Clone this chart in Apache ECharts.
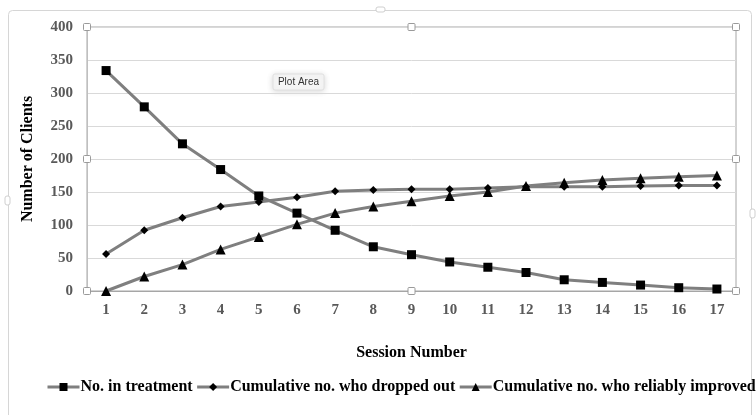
<!DOCTYPE html>
<html>
<head>
<meta charset="utf-8">
<script src="https://cdn.jsdelivr.net/npm/echarts@6/dist/echarts.min.js"></script>
<style>
  html, body { margin: 0; padding: 0; background: #ffffff; }
  #chart { width: 756px; height: 415px; }
</style>
</head>
<body>
<div id="chart"></div>
<script>
// Session numbers along the x axis
const sessions = ['1','2','3','4','5','6','7','8','9','10','11','12','13','14','15','16','17'];

// Clients still in treatment at each session
const inTreatment = [334, 279, 223, 184, 144, 118, 92, 67, 55, 44, 36, 28, 17, 13, 9, 5, 3];

// Cumulative number of clients who dropped out
const droppedOut = [56, 92, 111, 128, 135, 142, 151, 153, 154, 154, 156, 158, 158, 158, 159, 160, 160];

// Cumulative number of clients who reliably improved
const reliablyImproved = [0, 22, 40, 63, 82, 101, 118, 128, 136, 144, 150, 159, 164, 168, 171, 173, 175];

const seriesNames = ['No. in treatment', 'Cumulative no. who dropped out', 'Cumulative no. who reliably improved'];

const serif = '"Liberation Serif", "Times New Roman", serif';
const lineGray = '#7f7f7f';

const chart = echarts.init(document.getElementById('chart'), null, { renderer: 'canvas' });

// Plot area geometry (pixels)
const G = { left: 87, top: 27, right: 736, bottom: 291 };

function handle(x, y) {
  return {
    type: 'rect',
    shape: { x: x - 3.5, y: y - 3.5, width: 7, height: 7, r: 1 },
    style: { fill: '#ffffff', stroke: '#9a9a9a', lineWidth: 1 },
    z: 50
  };
}

function lineSeries(name, data, symbol, size) {
  return {
    name: name,
    type: 'line',
    data: data,
    symbol: symbol,
    symbolSize: size,
    showAllSymbol: true,
    lineStyle: { color: lineGray, width: 3 },
    itemStyle: { color: '#000000', borderColor: '#000000', borderWidth: 0 },
    emphasis: { disabled: true },
    animation: false,
    z: 3
  };
}

const midX = (G.left + G.right) / 2;
const midY = (G.top + G.bottom) / 2;

chart.setOption({
  backgroundColor: '#ffffff',
  animation: false,
  grid: {
    left: G.left,
    top: G.top,
    right: 756 - G.right,
    bottom: 415 - G.bottom,
    show: true,
    borderColor: '#a6a6a6',
    borderWidth: 1,
    backgroundColor: 'transparent'
  },
  xAxis: {
    type: 'category',
    data: sessions,
    boundaryGap: true,
    name: 'Session Number',
    nameLocation: 'middle',
    nameGap: 54,
    nameTextStyle: { fontFamily: serif, fontWeight: 'bold', fontSize: 16, color: '#000000' },
    axisLine: { show: true, lineStyle: { color: '#a6a6a6', width: 1 } },
    axisTick: { show: false },
    axisLabel: { fontFamily: serif, fontWeight: 'bold', fontSize: 15, color: '#595959', margin: 12 },
    splitLine: { show: false }
  },
  yAxis: {
    type: 'value',
    min: 0,
    max: 400,
    interval: 50,
    name: 'Number of Clients',
    nameLocation: 'middle',
    nameGap: 51,
    nameRotate: 90,
    nameTextStyle: { fontFamily: serif, fontWeight: 'bold', fontSize: 16, color: '#000000' },
    axisLine: { show: true, lineStyle: { color: '#bfbfbf', width: 1 } },
    axisTick: { show: false },
    axisLabel: { fontFamily: serif, fontWeight: 'bold', fontSize: 15, color: '#595959', margin: 14 },
    splitLine: { show: true, lineStyle: { color: '#d9d9d9', width: 1 } }
  },
  legend: {
    show: true,
    data: seriesNames,
    orient: 'horizontal',
    left: 41,
    top: 374,
    width: 780,
    itemWidth: 32,
    itemHeight: 10,
    itemGap: 3,
    lineStyle: { width: 3, color: lineGray },
    textStyle: { fontFamily: serif, fontWeight: 'bold', fontSize: 16, color: '#000000', padding: [0, 0, 0, -4] },
    selectedMode: false
  },
  series: [
    lineSeries(seriesNames[0], inTreatment, 'rect', 9),
    lineSeries(seriesNames[1], droppedOut, 'diamond', 8),
    lineSeries(seriesNames[2], reliablyImproved, 'triangle', 10)
  ],
  graphic: [
    // outer chart frame
    {
      type: 'rect',
      shape: { x: 8.5, y: 10.5, width: 743, height: 420, r: 4 },
      style: { fill: 'none', stroke: '#d6d6d6', lineWidth: 1 },
      z: 0, silent: true
    },
    // frame handles
    { type: 'rect', shape: { x: 5, y: 196, width: 5, height: 9, r: 2 }, style: { fill: '#fff', stroke: '#cfcfcf' }, z: 40 },
    { type: 'rect', shape: { x: 750, y: 209, width: 5, height: 9, r: 2 }, style: { fill: '#fff', stroke: '#cfcfcf' }, z: 40 },
    { type: 'rect', shape: { x: 376, y: 7, width: 9, height: 5, r: 2 }, style: { fill: '#fff', stroke: '#cfcfcf' }, z: 40 },
    // plot-area selection handles
    handle(G.left, G.top), handle(midX, G.top), handle(G.right, G.top),
    handle(G.left, midY), handle(G.right, midY),
    handle(G.left, G.bottom), handle(midX, G.bottom), handle(G.right, G.bottom),
    // "Plot Area" hover label
    {
      type: 'group',
      x: 273, y: 74,
      z: 60,
      children: [
        {
          type: 'rect',
          shape: { x: 0, y: 0, width: 51, height: 16, r: 2 },
          style: { fill: '#f7f7f7', stroke: '#e0e0e0', lineWidth: 1, shadowBlur: 6, shadowColor: 'rgba(0,0,0,0.15)', shadowOffsetY: 1 }
        },
        {
          type: 'text',
          x: 25.5, y: 8,
          style: { text: 'Plot Area', fontFamily: '"Liberation Sans", Arial, sans-serif', fontSize: 10, fill: '#333333', align: 'center', verticalAlign: 'middle' }
        }
      ]
    }
  ]
});
</script>
</body>
</html>
